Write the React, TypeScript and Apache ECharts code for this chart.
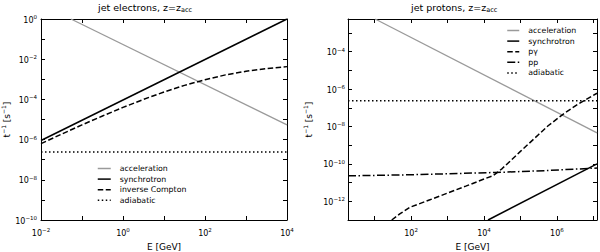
import React, { useEffect, useRef } from 'react';
import * as echarts from 'echarts';

const FONT = 'DejaVu Sans';

// ---- Left panel: jet electrons (E in GeV, t^-1 in s^-1) ----
const elecAccelE = [0.0537, 1e4];
const elecAccelT = [1, 5.4e-6];
const elecSyncE = [1e-2, 1e4];
const elecSyncT = [9e-7, 1];
const elecICE = [1e-2, 3.16e-2, 0.1, 0.316, 1, 3.16, 10, 31.6, 100, 316, 1000, 3162, 1e4];
const elecICT = [6.3e-7, 1.86e-6, 5.4e-6, 1.5e-5, 4.0e-5, 1.0e-4, 2.34e-4, 5.0e-4, 9.5e-4, 1.66e-3, 2.5e-3, 3.4e-3, 4.27e-3];
const elecAdiabE = [1e-2, 1e4];
const elecAdiabT = [2.4e-7, 2.4e-7];

// ---- Right panel: jet protons ----
const protAccelE = [10.3, 1.26e7];
const protAccelT = [5.6e-3, 4.6e-9];
const protSyncE = [1.29e4, 1.26e7];
const protSyncT = [1e-13, 1.0e-10];
const protPgE = [29.5, 50.1, 93.3, 316, 1000, 3162, 1e4, 1.78e4, 3.16e4, 1e5, 3.16e5, 5.75e5, 1.58e6, 3.98e6, 1.26e7];
const protPgT = [1e-13, 2.19e-13, 4.79e-13, 1.17e-12, 2.75e-12, 6.46e-12, 1.55e-11, 2.34e-11, 5.62e-11, 4.68e-10, 3.72e-9, 1.1e-8, 5.0e-8, 1.66e-7, 6.0e-7];
const protPpE = [1.86, 100, 2e4, 5e5, 1.26e7];
const protPpT = [2.29e-11, 2.63e-11, 3.47e-11, 4.37e-11, 6.03e-11];
const protAdiabE = [1.86, 1.26e7];
const protAdiabT = [2.35e-7, 2.35e-7];

// ---- Axis ranges and labelled decades ----
const elecXRange = [1e-2, 1e4];
const elecYRange = [1e-10, 1];
const protXRange = [1.86, 1.26e7];
const protYRange = [1e-13, 5.6e-3];
const elecXLabels = [-2, 0, 2, 4];
const elecYLabels = [-10, -8, -6, -4, -2, 0];
const protXLabels = [2, 4, 6];
const protYLabels = [-12, -10, -8, -6, -4];

const elecLegend = ['acceleration', 'synchrotron', 'inverse Compton', 'adiabatic'];
const protLegend = ['acceleration', 'synchrotron', 'pγ', 'pp', 'adiabatic'];

const lg = (v: number) => Math.log10(v);
const pts = (es: number[], ts: number[]) => es.map((e, i) => [lg(e), lg(ts[i])]);

const supFormatter = (shown: number[]) => (v: number) => {
  const r = Math.round(v);
  if (Math.abs(v - r) > 1e-6 || shown.indexOf(r) < 0) return '';
  return `{b|10}{s|${r < 0 ? '−' + -r : r}}`;
};

const labelRich = {
  b: { fontSize: 8, fontFamily: FONT, color: '#000', lineHeight: 10, verticalAlign: 'bottom' },
  s: { fontSize: 5.5, fontFamily: FONT, color: '#000', lineHeight: 6, verticalAlign: 'top' },
};

const axisCommon = (range: number[]) => ({
  type: 'value',
  min: lg(range[0]),
  max: lg(range[1]),
  minInterval: 1,
  maxInterval: 1,
  splitNumber: 12,
  axisLine: { show: true, onZero: false, lineStyle: { color: '#000', width: 1 } },
  axisTick: { show: true, inside: true, length: 4, lineStyle: { color: '#000', width: 1 } },
  splitLine: { show: false },
});

const nameRich = {
  n: { fontSize: 9, fontFamily: FONT, color: '#000', lineHeight: 11, verticalAlign: 'bottom' },
  s: { fontSize: 6, fontFamily: FONT, color: '#000', lineHeight: 6, verticalAlign: 'top' },
};

const xAxis = (grid: number, range: number[], labels: number[], position: string, main: boolean) => ({
  ...axisCommon(range),
  gridIndex: grid,
  position,
  name: main ? 'E [GeV]' : '',
  nameLocation: 'middle',
  nameGap: 19,
  nameTextStyle: { fontSize: 9, fontFamily: FONT, color: '#000', lineHeight: 11 },
  axisLabel: {
    show: main,
    formatter: supFormatter(labels),
    margin: 7,
    rich: labelRich,
    showMinLabel: true,
    showMaxLabel: true,
  },
});

const yAxis = (grid: number, range: number[], labels: number[], position: string, main: boolean, gap: number, lmargin: number) => ({
  ...axisCommon(range),
  gridIndex: grid,
  position,
  name: main ? '{n|t}{s|−1}{n| [s}{s|−1}{n|]}' : '',
  nameLocation: 'middle',
  nameRotate: 90,
  nameGap: gap,
  nameTextStyle: { fontSize: 9, fontFamily: FONT, color: '#000', rich: nameRich },
  axisLabel: {
    show: main,
    formatter: supFormatter(labels),
    margin: lmargin,
    rich: labelRich,
    showMinLabel: true,
    showMaxLabel: true,
  },
});

const line = (name: string, es: number[], ts: number[], idx: number, color: string, width: number, type: any) => ({
  name,
  type: 'line',
  xAxisIndex: idx,
  yAxisIndex: idx,
  data: pts(es, ts),
  symbol: 'none',
  showSymbol: false,
  clip: true,
  silent: true,
  lineStyle: { color, width, type },
  itemStyle: { color },
  emphasis: { disabled: true },
});

const GRAY = '#9a9a9a';
const DASH = [5.5, 2.5];
const DOT = [1.5, 2.5];
const DASHDOT = [8, 2.5, 1.5, 2.5];

const titleStyle = {
  fontSize: 9.5,
  fontWeight: 'normal',
  color: '#000',
  fontFamily: FONT,
  lineHeight: 12,
  rich: { sub: { fontSize: 6.5, fontFamily: FONT, color: '#000', lineHeight: 6, verticalAlign: 'bottom' } },
};

const legendCommon = {
  orient: 'vertical',
  itemHeight: 7,
  itemGap: 2.6,
  padding: 0,
  selectedMode: false,
  itemStyle: { opacity: 0 },
  lineStyle: { width: 1.5 },
  textStyle: { fontSize: 7.8, fontFamily: FONT, color: '#000', padding: [0, 0, 0, 4] },
};

const option = {
  animation: false,
  backgroundColor: '#fff',
  title: [
    { text: 'jet electrons, z=z{sub|acc}', left: 98, top: 1, padding: 0, textStyle: titleStyle },
    { text: 'jet protons, z=z{sub|acc}', left: 411, top: 1, padding: 0, textStyle: titleStyle },
  ],
  grid: [
    { left: 41, top: 19, width: 246, height: 201, containLabel: false, outerBoundsMode: 'none' },
    { left: 348, top: 19, width: 249, height: 201, containLabel: false, outerBoundsMode: 'none' },
  ],
  xAxis: [
    xAxis(0, elecXRange, elecXLabels, 'bottom', true),
    xAxis(1, protXRange, protXLabels, 'bottom', true),
    xAxis(0, elecXRange, elecXLabels, 'top', false),
    xAxis(1, protXRange, protXLabels, 'top', false),
  ],
  yAxis: [
    yAxis(0, elecYRange, elecYLabels, 'left', true, 28, 4),
    yAxis(1, protYRange, protYLabels, 'left', true, 35, 3),
    yAxis(0, elecYRange, elecYLabels, 'right', false, 0, 0),
    yAxis(1, protYRange, protYLabels, 'right', false, 0, 0),
  ],
  legend: [
    { ...legendCommon, data: elecLegend, left: 97, top: 164.5, itemWidth: 13 },
    { ...legendCommon, data: protLegend, left: 506.5, top: 26.5, itemWidth: 12 },
  ],
  series: [
    line('acceleration', elecAccelE, elecAccelT, 0, GRAY, 1.3, 'solid'),
    line('synchrotron', elecSyncE, elecSyncT, 0, '#000', 1.5, 'solid'),
    line('inverse Compton', elecICE, elecICT, 0, '#000', 1.5, DASH),
    line('adiabatic', elecAdiabE, elecAdiabT, 0, '#000', 1.5, DOT),
    line('acceleration', protAccelE, protAccelT, 1, GRAY, 1.3, 'solid'),
    line('synchrotron', protSyncE, protSyncT, 1, '#000', 1.5, 'solid'),
    line('pγ', protPgE, protPgT, 1, '#000', 1.5, DASH),
    line('pp', protPpE, protPpT, 1, '#000', 1.5, DASHDOT),
    line('adiabatic', protAdiabE, protAdiabT, 1, '#000', 1.5, DOT),
  ],
};

export default function App() {
  const ref = useRef<HTMLDivElement>(null);
  useEffect(() => {
    const chart = echarts.init(ref.current as HTMLDivElement, null, { renderer: 'svg' });
    chart.setOption(option as any);
    return () => chart.dispose();
  }, []);
  return (
    <div
      ref={ref}
      style={{ position: 'fixed', left: 0, top: 0, width: 600, height: 252, background: '#fff' }}
    />
  );
}
